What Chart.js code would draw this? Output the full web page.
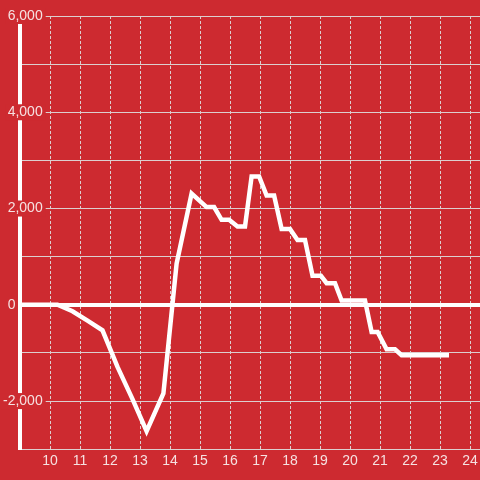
<!DOCTYPE html>
<html>
<head>
<meta charset="utf-8">
<script src="https://cdn.jsdelivr.net/npm/chart.js@4"></script>
<style>
  html, body { margin: 0; padding: 0; background: #cd2a30; }
  #wrap { width: 480px; height: 480px; }
</style>
</head>
<body>
<div id="wrap"><canvas id="chart"></canvas></div>
<script>
// hour of day -> running total
const hours = [9, 10.25, 10.75, 11.25, 11.75, 12.25, 12.75, 13.22, 13.78, 14.22, 14.72,
  15.22, 15.47, 15.72, 15.97, 16.25, 16.5, 16.72, 16.97, 17.22, 17.47, 17.72, 18.0,
  18.25, 18.5, 18.75, 19.03, 19.22, 19.5, 19.72, 20.5, 20.72, 20.92, 21.22, 21.5, 21.72, 23.3];
const values = [0, 0, -135, -330, -530, -1290, -1960, -2625, -1840, 855, 2310,
  2030, 2030, 1765, 1765, 1628, 1628, 2667, 2667, 2270, 2270, 1576, 1576,
  1347, 1347, 604, 604, 450, 450, 90, 90, -565, -565, -923, -923, -1047, -1047];

const hourTicks = [10, 11, 12, 13, 14, 15, 16, 17, 18, 19, 20, 21, 22, 23, 24];
const valueTicks = [-3000, -2000, -1000, 0, 1000, 2000, 3000, 4000, 5000, 6000];
const valueLabels = ['', '-2,000', '', '0', '', '2,000', '', '4,000', '', '6,000'];

const BG = '#cd2a30';
const GRID = '#dccfcf';
const TEXT = '#f6e1e1';
const FONT = { family: '"Liberation Sans", Arial, sans-serif', size: 14 };

const points = hours.map((h, i) => ({ x: h, y: values[i] }));

new Chart(document.getElementById('chart'), {
    type: 'line',
    data: {
        datasets: [{
            data: points,
            borderColor: '#ffffff',
            borderWidth: 4.5,
            pointRadius: 0,
            tension: 0,
            fill: false
        }]
    },
    options: {
        responsive: true,
        maintainAspectRatio: false,
        animation: false,
        layout: { padding: { top: 16, bottom: 6, left: 0, right: 0 } },
        plugins: { legend: { display: false }, tooltip: { enabled: false } },
        scales: {
            x: {
                type: 'linear',
                min: 9,
                max: 24.333,
                afterBuildTicks: (s) => { s.ticks = hourTicks.map(v => ({ value: v })); },
                afterFit: (s) => { s.paddingRight = 0; },
                border: { color: GRID, width: 1, dash: [3, 2] },
                grid: { color: GRID, lineWidth: 1, drawTicks: false },
                ticks: { color: TEXT, font: FONT, padding: 4, maxRotation: 0, autoSkip: false }
            },
            y: {
                min: -3000,
                max: 6000,
                afterBuildTicks: (s) => { s.ticks = valueTicks.map(v => ({ value: v })); },
                afterFit: (s) => { s.width = 20; },
                border: { color: '#ffffff', width: 4 },
                grid: {
                    color: (ctx) => ctx.tick && ctx.tick.value === 0 ? '#ffffff' : GRID,
                    lineWidth: (ctx) => ctx.tick && ctx.tick.value === 0 ? 4 : 1,
                    drawTicks: false
                },
                ticks: {
                    color: TEXT,
                    font: { ...FONT, lineHeight: 1 },
                    mirror: true,
                    crossAlign: 'far',
                    padding: -17,
                    autoSkip: false,
                    showLabelBackdrop: true,
                    backdropPadding: { top: 1, bottom: 1, left: 2, right: 3 },
                    backdropColor: (ctx) => {
                        const lbl = valueLabels[ctx.index];
                        return (!lbl || lbl === '0') ? 'rgba(0,0,0,0)' : BG;
                    },
                    callback: (v, i) => {
                        const lbl = valueLabels[i];
                        // the zero label sits left of the axis line
                        return lbl === '0' ? '0       ' : lbl;
                    }
                }
            }
        }
    }
});
</script>
</body>
</html>
